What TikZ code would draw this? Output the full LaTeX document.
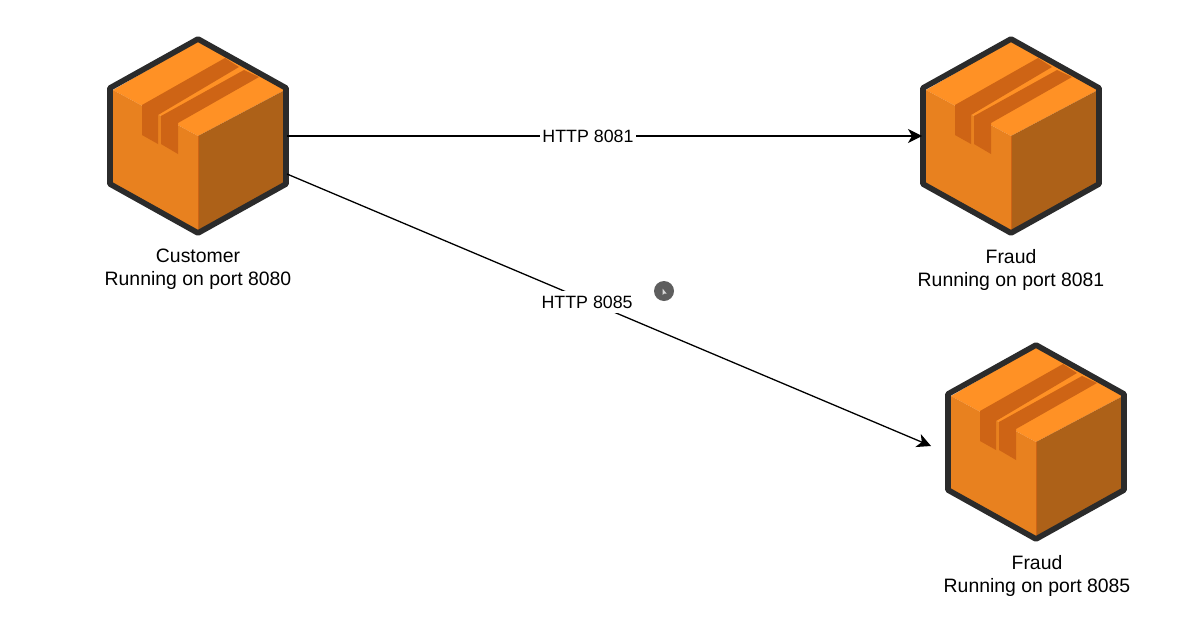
\documentclass[tikz,border=0pt]{standalone}
\usepackage{fontspec}
\setmainfont{Liberation Sans}
\usetikzlibrary{arrows.meta,positioning}
\definecolor{parceltop}{HTML}{FF9125}
\definecolor{parcelleft}{HTML}{E8811F}
\definecolor{parcelright}{HTML}{AD6118}
\definecolor{parceltape}{HTML}{CE6415}
\definecolor{parceledge}{HTML}{2B2B2B}
\begin{document}
\begin{tikzpicture}[
                    x=1pt, y=-1pt,
                    boxnode/.style={minimum width=178pt, minimum height=198pt, inner sep=0pt, outer sep=0pt},
                    caption/.style={align=center, inner sep=0pt, font=\fontsize{19.4}{23}\selectfont},
                    link/.style={draw=black, line width=1.3pt, -{Stealth[length=14pt,width=14pt,inset=4pt]}},
                    linklabel/.style={fill=white, inner sep=2.5pt, minimum height=22pt, font=\fontsize{17.8}{22}\selectfont},
                    parcel/.pic={
                        % Faces
                        \fill[parceltop] (-85,-46) -- (0,-95) -- (87,-46) -- (0,0) -- cycle;
                        \fill[parcelleft] (-85,-46) -- (0,0) -- (0,95) -- (-85,48) -- cycle;
                        \fill[parcelright] (87,-46) -- (0,0) -- (0,95) -- (87,48) -- cycle;
                        \draw[parceltape, line width=1pt] (0,0) -- (0,94);
                        % Tape
                        \fill[parceltape] (-56,-1) -- (-56,-31) -- (27,-78) -- (41,-69) -- (-40,-21) -- (-40,8) -- cycle;
                        \fill[parceltape] (-37,8) -- (-37,-20) -- (46,-66) -- (61,-59) -- (-20,-13) -- (-20,18) -- cycle;
                        % Outline
                        \draw[parceledge, line width=5.6pt, line join=round]
                            (0,-97) -- (88,-48) -- (88,48) -- (0,97) -- (-88,48) -- (-88,-48) -- cycle;
                        \node[boxnode] (-box) at (0,0) {};
                    }
                ]
    \useasboundingbox (0,0) rectangle (1204,616);
    \fill[white] (0,0) rectangle (1204,616);

    % Services
    \pic (customer) at (198,136) {parcel};
    \pic (fraudA) at (1011,136) {parcel};
    \pic (fraudB) at (1036,442) {parcel};

    % Captions
    \node[caption] (customerText) at (198,269.5) {Customer\\Running on port 8080};
    \node[caption] (fraudAText) at (1011,269.5) {Fraud\\Running on port 8081};
    \node[caption] (fraudBText) at (1037,576) {Fraud\\Running on port 8085};

    % Connections
    \coordinate (tail) at (287,174);
    \coordinate (tip) at (931,446);
    \draw[link] (customer-box.east) -- node[linklabel, pos=0.474] (labelA) {HTTP 8081} (fraudA-box.west);
    \draw[link] (tail) -- node[linklabel, pos=0.466, yshift=-1.5pt] (labelB) {HTTP 8085} (tip);

    % Pointer
    \fill[gray!20!black!70] (664,291) circle (10);
    \fill[white!85!black] (662.5,288.5) -- (662.5,295) -- (664,293.5) -- (666.5,293.5) -- cycle;
\end{tikzpicture}
\end{document}
